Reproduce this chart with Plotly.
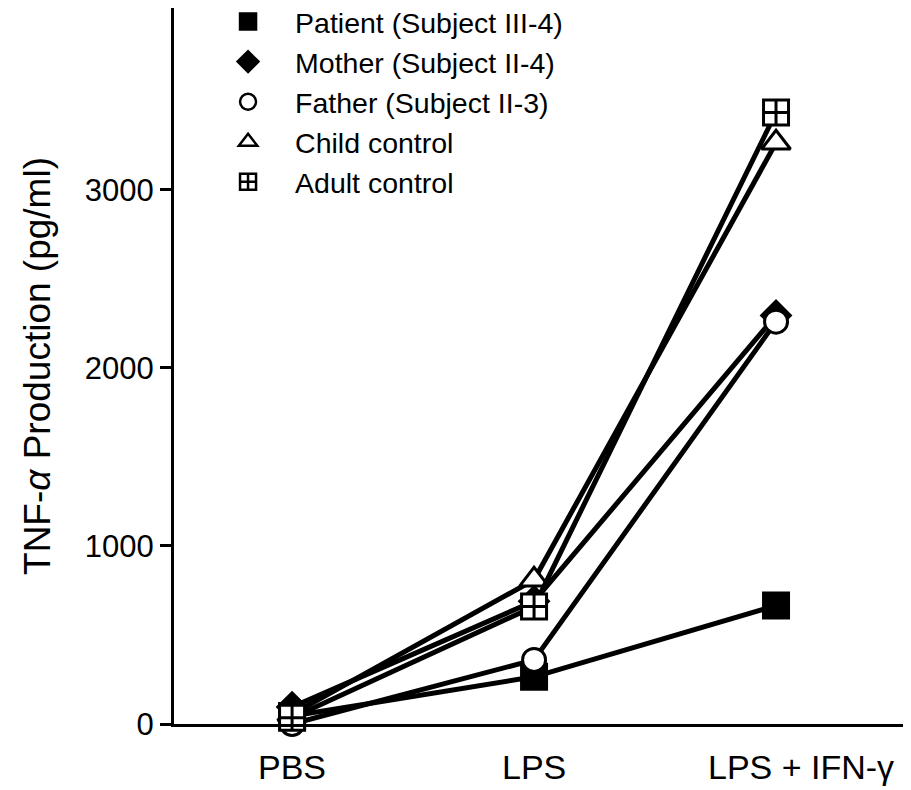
import plotly.graph_objects as go

categories = ["PBS", "LPS", "LPS + IFN-γ"]
x_pos = [0, 1, 2]

series_names = [
    "Patient (Subject III-4)",
    "Mother (Subject II-4)",
    "Father (Subject II-3)",
    "Child control",
    "Adult control",
]
patient = [45, 265, 665]
mother = [95, 690, 2295]
father = [0, 360, 2260]
child = [55, 810, 3265]
adult = [35, 660, 3435]

y_ticks = [0, 1000, 2000, 3000]

values = [patient, mother, father, child, adult]
symbols = ["square", "diamond", "circle", "triangle-up", "square-cross"]
fills = ["black", "black", "white", "white", "white"]
sizes = [25, 22, 23, 25, 25]

FONT = "Liberation Sans, Arial, Helvetica, sans-serif"

fig = go.Figure()
for name, vals, sym, fill, sz in zip(series_names, values, symbols, fills, sizes):
    fig.add_trace(go.Scatter(
        x=x_pos, y=vals, mode="lines+markers", showlegend=False,
        line=dict(color="black", width=5),
        marker=dict(symbol=sym, size=sz, color=fill,
                    line=dict(color="black", width=3)),
        cliponaxis=False,
    ))
# legend-only marker entries
for name, sym, fill in zip(series_names, symbols, fills):
    fig.add_trace(go.Scatter(
        x=[None], y=[None], mode="markers", name=name,
        marker=dict(symbol=sym, size=17, color=fill,
                    line=dict(color="black", width=2.5)),
    ))

# x category labels as annotations
shifts = [0, 0, 25]
for xp, lab, sh in zip(x_pos, categories, shifts):
    fig.add_annotation(x=xp, y=0, xref="x", yref="paper", text=lab,
                       showarrow=False, yanchor="top", yshift=-22, xshift=sh,
                       font=dict(family=FONT, size=34, color="black"))

# the page body adds an 8px offset, so margins compensate for it
fig.update_layout(
    width=911, height=790,
    margin=dict(l=166, r=14, t=0, b=74, autoexpand=False),
    paper_bgcolor="white", plot_bgcolor="white",
    font=dict(family=FONT, color="black"),
    legend=dict(x=0.037, y=1.016, xanchor="left", yanchor="top",
                font=dict(family=FONT, size=28.5, color="black"),
                bgcolor="rgba(0,0,0,0)", itemwidth=84,
                tracegroupgap=0),
    xaxis=dict(range=[-0.488, 2.533], tickvals=x_pos, showticklabels=False,
               ticks="", showgrid=False, zeroline=False,
               showline=True, linecolor="black", linewidth=2.5),
    yaxis=dict(range=[0, 4022], tickvals=y_ticks, ticks="outside",
               ticklen=11, tickwidth=2.5, tickcolor="black",
               tickfont=dict(family=FONT, size=31, color="black"),
               showgrid=False, zeroline=False,
               showline=True, linecolor="black", linewidth=3,
               title=dict(text="TNF-<i>α</i> Production (pg/ml)",
                          font=dict(family=FONT, size=37, color="black"),
                          standoff=23)),
)

fig.write_html("out.html")
